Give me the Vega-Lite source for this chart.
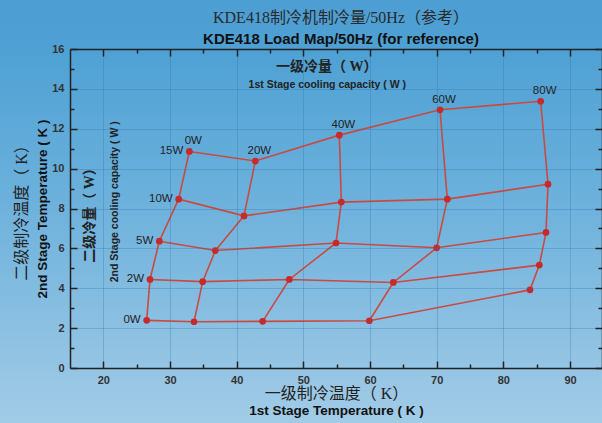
{
  "$schema": "https://vega.github.io/schema/vega-lite/v6.json",
  "width": 532,
  "height": 319,
  "autosize": "none",
  "padding": {"left": 70, "top": 49, "right": 0, "bottom": 55},
  "background": "#6fb2dd",
  "config": {
    "view": {"stroke": null},
    "axis": {"zindex": 1},
    "text": {"font": "Liberation Sans", "color": "#222"}
  },
  "title": {
    "text": "KDE418制冷机制冷量/50Hz（参考）",
    "subtitle": "KDE418 Load Map/50Hz (for reference)",
    "anchor": "middle",
    "frame": "group",
    "dx": 5,
    "offset": -49.5,
    "font": "Liberation Serif, Noto Sans CJK SC",
    "fontSize": 16,
    "fontWeight": "normal",
    "color": "#2a2a2a",
    "subtitleFont": "Liberation Sans",
    "subtitleFontSize": 15,
    "subtitleFontWeight": "bold",
    "subtitleColor": "#111",
    "subtitlePadding": 6
  },
  "datasets": {
    "loadmap": [
      {"t1": 26.5, "t2": 2.39, "q1": 0, "q2": 0},
      {"t1": 33.6, "t2": 2.32, "q1": 20, "q2": 0},
      {"t1": 43.9, "t2": 2.34, "q1": 40, "q2": 0},
      {"t1": 59.9, "t2": 2.37, "q1": 60, "q2": 0},
      {"t1": 84.0, "t2": 3.92, "q1": 80, "q2": 0},
      {"t1": 27.0, "t2": 4.44, "q1": 0, "q2": 2},
      {"t1": 34.9, "t2": 4.33, "q1": 20, "q2": 2},
      {"t1": 47.9, "t2": 4.44, "q1": 40, "q2": 2},
      {"t1": 63.5, "t2": 4.29, "q1": 60, "q2": 2},
      {"t1": 85.4, "t2": 5.16, "q1": 80, "q2": 2},
      {"t1": 28.4, "t2": 6.36, "q1": 0, "q2": 5},
      {"t1": 36.8, "t2": 5.89, "q1": 20, "q2": 5},
      {"t1": 54.9, "t2": 6.27, "q1": 40, "q2": 5},
      {"t1": 70.0, "t2": 6.03, "q1": 60, "q2": 5},
      {"t1": 86.4, "t2": 6.80, "q1": 80, "q2": 5},
      {"t1": 31.3, "t2": 8.47, "q1": 0, "q2": 10},
      {"t1": 41.1, "t2": 7.63, "q1": 20, "q2": 10},
      {"t1": 55.7, "t2": 8.32, "q1": 40, "q2": 10},
      {"t1": 71.6, "t2": 8.47, "q1": 60, "q2": 10},
      {"t1": 86.7, "t2": 9.22, "q1": 80, "q2": 10},
      {"t1": 32.9, "t2": 10.86, "q1": 0, "q2": 15},
      {"t1": 42.8, "t2": 10.38, "q1": 20, "q2": 15},
      {"t1": 55.4, "t2": 11.68, "q1": 40, "q2": 15},
      {"t1": 70.5, "t2": 12.95, "q1": 60, "q2": 15},
      {"t1": 85.6, "t2": 13.38, "q1": 80, "q2": 15}
    ]
  },
  "data": {"name": "loadmap"},
  "layer": [
    {
      "data": {"values": [{}]},
      "mark": {
        "type": "rect",
        "clip": false,
        "color": {
          "gradient": "linear", "x1": 0, "y1": 0, "x2": 0, "y2": 1,
          "stops": [
            {"offset": 0, "color": "#4c9ed3"},
            {"offset": 0.12, "color": "#4fa1d4"},
            {"offset": 0.45, "color": "#6cb1dc"},
            {"offset": 0.83, "color": "#96c5e4"},
            {"offset": 1, "color": "#a6cfe9"}
          ]
        }
      },
      "encoding": {
        "x": {"datum": 0, "type": "quantitative", "scale": {"domain": [15, 94.8]}, "axis": null},
        "x2": {"datum": 100},
        "y": {"datum": -4, "type": "quantitative", "scale": {"domain": [0, 16]}, "axis": null},
        "y2": {"datum": 18.6}
      }
    },
    {
      "mark": {"type": "line", "color": "#cb4a40", "strokeWidth": 1.6},
      "encoding": {
        "x": {
          "field": "t1", "type": "quantitative", "scale": {"domain": [15, 94.8]},
          "axis": {
            "orient": "bottom", "zindex": 1,
            "values": [20, 30, 40, 50, 60, 70, 80, 90],
            "tickSize": -7, "tickWidth": 1.5, "tickColor": "#222",
            "domainColor": "#222", "domainWidth": 1.5,
            "labelFont": "Liberation Sans", "labelFontSize": 11, "labelFontWeight": "bold",
            "labelColor": "#333", "labelPadding": 13,
            "grid": true, "gridColor": "#2f6fae", "gridOpacity": 0.3,
            "title": "一级制冷温度（ K）",
            "titleFont": "Liberation Serif, Noto Sans CJK SC", "titleFontSize": 16,
            "titleFontWeight": "normal", "titleColor": "#222", "titlePadding": 0
          }
        },
        "y": {
          "field": "t2", "type": "quantitative", "scale": {"domain": [0, 16]},
          "axis": {
            "orient": "left", "zindex": 1,
            "values": [0, 2, 4, 6, 8, 10, 12, 14, 16],
            "tickSize": -7, "tickWidth": 1.5, "tickColor": "#222",
            "domainColor": "#222", "domainWidth": 1.5,
            "labelFont": "Liberation Sans", "labelFontSize": 11, "labelFontWeight": "bold",
            "labelColor": "#333", "labelPadding": 13,
            "grid": true, "gridColor": "#2f6fae", "gridOpacity": 0.3,
            "title": "2nd Stage Temperature ( K )",
            "titleFont": "Liberation Sans", "titleFontSize": 13.5,
            "titleFontWeight": "bold", "titleColor": "#111", "titlePadding": 2
          }
        },
        "detail": {"field": "q2", "type": "nominal"},
        "order": {"field": "q1", "type": "quantitative"}
      }
    },
    {
      "mark": {"type": "line", "color": "#cb4a40", "strokeWidth": 1.6},
      "encoding": {
        "x": {
          "field": "t1", "type": "quantitative", "scale": {"domain": [15, 94.8]},
          "axis": {
            "orient": "bottom", "zindex": 1, "values": [25, 35, 45, 55, 65, 75, 85],
            "tickSize": -4, "tickWidth": 1.5, "tickColor": "#222",
            "domain": false, "labels": false, "grid": false, "title": null
          }
        },
        "y": {
          "field": "t2", "type": "quantitative", "scale": {"domain": [0, 16]},
          "axis": {
            "orient": "left", "zindex": 1, "values": [1, 3, 5, 7, 9, 11, 13, 15],
            "tickSize": -4, "tickWidth": 1.5, "tickColor": "#222",
            "domain": false, "labels": false, "grid": false, "title": null
          }
        },
        "detail": {"field": "q1", "type": "nominal"},
        "order": {"field": "q2", "type": "quantitative"}
      }
    },
    {
      "mark": {"type": "point", "filled": true, "size": 45, "color": "#c62a2a", "opacity": 1},
      "encoding": {
        "x": {
          "field": "t1", "type": "quantitative", "scale": {"domain": [15, 94.8]},
          "axis": {
            "orient": "bottom", "zindex": 1, "domain": false, "labels": false, "grid": false,
            "values": [20], "ticks": true, "tickSize": 1, "tickOpacity": 0,
            "title": "1st Stage Temperature ( K )",
            "titleFont": "Liberation Sans", "titleFontSize": 13.5,
            "titleFontWeight": "bold", "titleColor": "#111", "titlePadding": 34
          }
        },
        "y": {
          "field": "t2", "type": "quantitative", "scale": {"domain": [0, 16]},
          "axis": {
            "orient": "left", "zindex": 1, "domain": false, "labels": false, "grid": false,
            "values": [0], "ticks": true, "tickSize": 1, "tickOpacity": 0,
            "title": "二级制冷温度（ K）",
            "titleFont": "Liberation Serif, Noto Sans CJK SC", "titleFontSize": 16,
            "titleFontWeight": "normal", "titleColor": "#222", "titlePadding": 40
          }
        }
      }
    },
    {
      "transform": [
        {"filter": "datum.q2 === 15"},
        {"calculate": "datum.q1 + 'W'", "as": "label"}
      ],
      "mark": {"type": "text", "fontSize": 11.5, "dx": 4, "dy": -10, "align": "center", "baseline": "middle"},
      "encoding": {
        "x": {
          "field": "t1", "type": "quantitative", "scale": {"domain": [15, 94.8]},
          "axis": {
            "orient": "top", "zindex": 1, "values": [20, 30, 40, 50, 60, 70, 80, 90],
            "tickSize": -7, "tickWidth": 1.5, "tickColor": "#222",
            "domainColor": "#222", "domainWidth": 1.5,
            "labels": false, "grid": false, "title": null
          }
        },
        "y": {
          "field": "t2", "type": "quantitative", "scale": {"domain": [0, 16]},
          "axis": {
            "orient": "right", "zindex": 1, "values": [0, 2, 4, 6, 8, 10, 12, 14, 16],
            "tickSize": -7, "tickWidth": 1.5, "tickColor": "#222",
            "domainColor": "#222", "domainWidth": 1.5,
            "labels": false, "grid": false, "title": null
          }
        },
        "text": {"field": "label"}
      }
    },
    {
      "transform": [
        {"filter": "datum.q1 === 0"},
        {"calculate": "datum.q2 + 'W'", "as": "label"}
      ],
      "mark": {"type": "text", "fontSize": 11.5, "dx": -6, "align": "right", "baseline": "middle"},
      "encoding": {
        "x": {
          "field": "t1", "type": "quantitative", "scale": {"domain": [15, 94.8]},
          "axis": {
            "orient": "top", "zindex": 1, "values": [25, 35, 45, 55, 65, 75, 85],
            "tickSize": -4, "tickWidth": 1.5, "tickColor": "#222",
            "domain": false, "labels": false, "grid": false, "title": null
          }
        },
        "y": {
          "field": "t2", "type": "quantitative", "scale": {"domain": [0, 16]},
          "axis": {
            "orient": "right", "zindex": 1, "values": [1, 3, 5, 7, 9, 11, 13, 15],
            "tickSize": -4, "tickWidth": 1.5, "tickColor": "#222",
            "domain": false, "labels": false, "grid": false, "title": null
          }
        },
        "text": {"field": "label"}
      }
    },
    {
      "data": {"values": [{}]},
      "mark": {"type": "text", "text": "一级冷量（ W）", "font": "Liberation Serif, Noto Sans CJK SC", "fontSize": 14, "fontWeight": "bold", "baseline": "middle"},
      "encoding": {
        "x": {"datum": 53.5, "type": "quantitative", "scale": {"domain": [15, 94.8]}, "axis": null},
        "y": {"datum": 15.1, "type": "quantitative", "scale": {"domain": [0, 16]}, "axis": null}
      }
    },
    {
      "data": {"values": [{}]},
      "mark": {"type": "text", "text": "1st Stage cooling capacity ( W )", "fontSize": 10.5, "fontWeight": "bold", "baseline": "middle"},
      "encoding": {
        "x": {"datum": 53.6, "type": "quantitative", "scale": {"domain": [15, 94.8]}, "axis": null},
        "y": {"datum": 14.17, "type": "quantitative", "scale": {"domain": [0, 16]}, "axis": null}
      }
    },
    {
      "data": {"values": [{}]},
      "mark": {"type": "text", "text": "二级冷量（ W）", "font": "Liberation Serif, Noto Sans CJK SC", "fontSize": 14, "fontWeight": "bold", "angle": 270, "baseline": "middle"},
      "encoding": {
        "x": {"datum": 18.0, "type": "quantitative", "scale": {"domain": [15, 94.8]}, "axis": null},
        "y": {"datum": 7.83, "type": "quantitative", "scale": {"domain": [0, 16]}, "axis": null}
      }
    },
    {
      "data": {"values": [{}]},
      "mark": {"type": "text", "text": "2nd Stage cooling capacity ( W )", "fontSize": 10.5, "fontWeight": "bold", "angle": 270, "baseline": "middle"},
      "encoding": {
        "x": {"datum": 21.75, "type": "quantitative", "scale": {"domain": [15, 94.8]}, "axis": null},
        "y": {"datum": 8.34, "type": "quantitative", "scale": {"domain": [0, 16]}, "axis": null}
      }
    }
  ],
  "resolve": {"axis": {"x": "independent", "y": "independent"}}
}
